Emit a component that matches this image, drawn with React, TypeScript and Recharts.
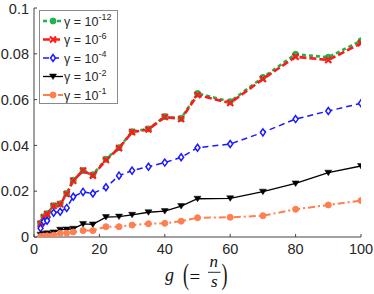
import React from 'react';
import { LineChart, Line, XAxis, YAxis, Legend } from 'recharts';

const gValues = [2, 3, 4, 6, 8, 10, 12, 15, 18, 22, 26, 30, 35, 40, 45, 50, 60, 70, 80, 90, 100];
const gamma12 = [0.006, 0.0088, 0.0102, 0.0137, 0.0145, 0.019, 0.0248, 0.029, 0.0272, 0.034, 0.039, 0.046, 0.0472, 0.0526, 0.0518, 0.0627, 0.0591, 0.0697, 0.0798, 0.0785, 0.0857];
const gamma6 = [0.0058, 0.0086, 0.01, 0.0135, 0.0143, 0.0188, 0.0246, 0.029, 0.0268, 0.0336, 0.0388, 0.0458, 0.047, 0.0524, 0.0515, 0.062, 0.0585, 0.069, 0.0787, 0.0773, 0.0846];
const gamma4 = [0.0038, 0.0067, 0.0071, 0.0106, 0.011, 0.0127, 0.0176, 0.0197, 0.019, 0.0217, 0.0268, 0.029, 0.0307, 0.0325, 0.0348, 0.039, 0.0406, 0.0457, 0.0515, 0.055, 0.0584];
const gamma2 = [0.001, 0.0013, 0.0016, 0.002, 0.0032, 0.0033, 0.0036, 0.0057, 0.0055, 0.0087, 0.0089, 0.0097, 0.0108, 0.0113, 0.0135, 0.0167, 0.0169, 0.0198, 0.0234, 0.0281, 0.031];
const gamma1 = [0.0002, 0.0004, 0.0005, 0.0008, 0.0016, 0.0017, 0.0022, 0.0028, 0.0028, 0.0045, 0.0045, 0.0052, 0.0058, 0.006, 0.0069, 0.0084, 0.0086, 0.0093, 0.0121, 0.014, 0.0159];
const xTicks = [0, 20, 40, 60, 80, 100];
const yTicks = [0, 0.02, 0.04, 0.06, 0.08, 0.1];
const legendExps = ['-12', '-6', '-4', '-2', '-1'];

const data = gValues.map((g, i) => ({
  g,
  a: gamma12[i],
  b: gamma6[i],
  c: gamma4[i],
  d: gamma2[i],
  e: gamma1[i],
}));

const GREEN = '#22b24c';
const RED = '#ff1a1a';
const BLUE = '#1a1aff';
const BLACK = '#000000';
const ORANGE = '#ff7f50';
const AXIS = '#444444';
const TXT = '#262626';
const FONT = '"Liberation Sans", Arial, sans-serif';

type DotP = { cx?: number; cy?: number; index?: number };

const markCircle = (color: string) => (cx: number, cy: number, k: any) => (
  <circle key={k} cx={cx} cy={cy} r={3} fill={color} stroke={color} strokeWidth={1} />
);
const markCross = (color: string) => (cx: number, cy: number, k: any) => (
  <path key={k} d={`M${cx - 3},${cy - 3}L${cx + 3},${cy + 3}M${cx + 3},${cy - 3}L${cx - 3},${cy + 3}`} stroke={color} strokeWidth={2.2} fill="none" />
);
const markDiamond = (color: string) => (cx: number, cy: number, k: any) => (
  <polygon key={k} points={`${cx},${cy - 3.5} ${cx + 2.5},${cy} ${cx},${cy + 3.5} ${cx - 2.5},${cy}`} fill="#ffffff" stroke={color} strokeWidth={1.5} />
);
const markTri = (color: string) => (cx: number, cy: number, k: any) => (
  <polygon key={k} points={`${cx - 3.5},${cy - 2.5} ${cx + 3.5},${cy - 2.5} ${cx},${cy + 3}`} fill={color} stroke={color} strokeWidth={0.5} />
);

const series = [
  { key: 'a', color: GREEN, width: 2.6, dash: '4 3', mark: markCircle(GREEN), exp: legendExps[0] },
  { key: 'b', color: RED, width: 2.6, dash: '7 3', mark: markCross(RED), exp: legendExps[1] },
  { key: 'c', color: BLUE, width: 1.5, dash: '6 4', mark: markDiamond(BLUE), exp: legendExps[2] },
  { key: 'd', color: BLACK, width: 1.3, dash: undefined as string | undefined, mark: markTri(BLACK), exp: legendExps[3] },
  { key: 'e', color: ORANGE, width: 2, dash: '7 3 2 3', mark: markCircle(ORANGE), exp: legendExps[4] },
];

const dotFor = (mark: (cx: number, cy: number, k: any) => React.ReactElement) => (p: DotP) => {
  if (p.cx == null || p.cy == null) return <g key={p.index} />;
  return mark(p.cx, p.cy, p.index);
};

const LegendBox = () => (
  <svg width={79} height={94} style={{ display: 'block' }}>
    <rect x={0.5} y={0.5} width={78} height={93} fill="#ffffff" stroke="#8a8a8a" strokeWidth={1} />
    {series.map((s, i) => {
      const cy = 11 + i * 18.5;
      return (
        <g key={s.key}>
          <line x1={4} y1={cy} x2={24} y2={cy} stroke={s.color} strokeWidth={s.width} strokeDasharray={s.dash} />
          {s.mark(14, cy, 'm' + i)}
          <text x={25} y={cy + 4.5} fontFamily={FONT} fontSize={12.5} fill={TXT}>
            {'γ = 10'}
            <tspan fontSize={9} dy={-5.5}>{s.exp}</tspan>
          </text>
        </g>
      );
    })}
  </svg>
);

const XLabel = () => (
  <svg width={374} height={294} style={{ position: 'absolute', left: 0, top: 0, pointerEvents: 'none' }}>
    <g fontFamily='"Liberation Serif", "DejaVu Serif", serif' fill="#111111">
      <text x={165} y={281} fontSize={18} fontStyle="italic">g</text>
      <text transform="translate(183,276.5) scale(1,1.65)" x={0} y={4.5} fontSize={18}>(</text>
      <text x={189.5} y={283} fontSize={19}>=</text>
      <text x={209.5} y={267} fontSize={17} fontStyle="italic">n</text>
      <line x1={208} y1={272.3} x2={220.5} y2={272.3} stroke="#111111" strokeWidth={0.9} />
      <text x={211} y={287} fontSize={17} fontStyle="italic">s</text>
      <text transform="translate(221.5,276.5) scale(1,1.65)" x={0} y={4.5} fontSize={18}>)</text>
    </g>
  </svg>
);

const tickStyle = { fontFamily: FONT, fontSize: 14.5, fill: TXT };
const emptyTick = () => <g />;

export default function App() {
  return (
    <div style={{ position: 'absolute', left: 0, top: 0, width: 374, height: 294, background: '#ffffff' }}>
      <LineChart width={374} height={294} data={data} margin={{ top: 8, right: 13, bottom: 0, left: 0 }}>
        <XAxis
          dataKey="g"
          type="number"
          domain={[0, 100]}
          ticks={xTicks}
          allowDataOverflow
          height={57}
          stroke={AXIS}
          tickSize={-3}
          tickMargin={10}
          tick={tickStyle}
          tickLine={{ stroke: AXIS }}
          axisLine={{ stroke: AXIS }}
        />
        <XAxis
          xAxisId="t"
          orientation="top"
          dataKey="g"
          type="number"
          domain={[0, 100]}
          ticks={xTicks}
          allowDataOverflow
          height={0}
          stroke={AXIS}
          tickSize={-3}
          tick={emptyTick}
          tickLine={{ stroke: AXIS }}
          axisLine={{ stroke: AXIS }}
        />
        <YAxis
          type="number"
          domain={[0, 0.1]}
          ticks={yTicks}
          allowDataOverflow
          width={34}
          stroke={AXIS}
          tickSize={-3}
          tickMargin={8}
          tick={tickStyle}
          tickFormatter={(v: number) => (v === 0 ? '0' : String(v))}
          tickLine={{ stroke: AXIS }}
          axisLine={{ stroke: AXIS }}
        />
        <YAxis
          yAxisId="r"
          orientation="right"
          type="number"
          domain={[0, 0.1]}
          ticks={yTicks}
          allowDataOverflow
          width={0}
          stroke={AXIS}
          tickSize={-3}
          tick={emptyTick}
          tickLine={{ stroke: AXIS }}
          axisLine={{ stroke: AXIS }}
        />
        {series.map((s) => (
          <Line
            key={s.key}
            dataKey={s.key}
            type="linear"
            stroke={s.color}
            strokeWidth={s.width}
            strokeDasharray={s.dash}
            dot={dotFor(s.mark)}
            activeDot={false}
            isAnimationActive={false}
          />
        ))}
        <Legend
          layout="vertical"
          align="center"
          verticalAlign="middle"
          content={() => <LegendBox />}
          wrapperStyle={{ position: 'absolute', left: 39, top: 10, width: 79, height: 94 }}
        />
      </LineChart>
      <XLabel />
    </div>
  );
}
